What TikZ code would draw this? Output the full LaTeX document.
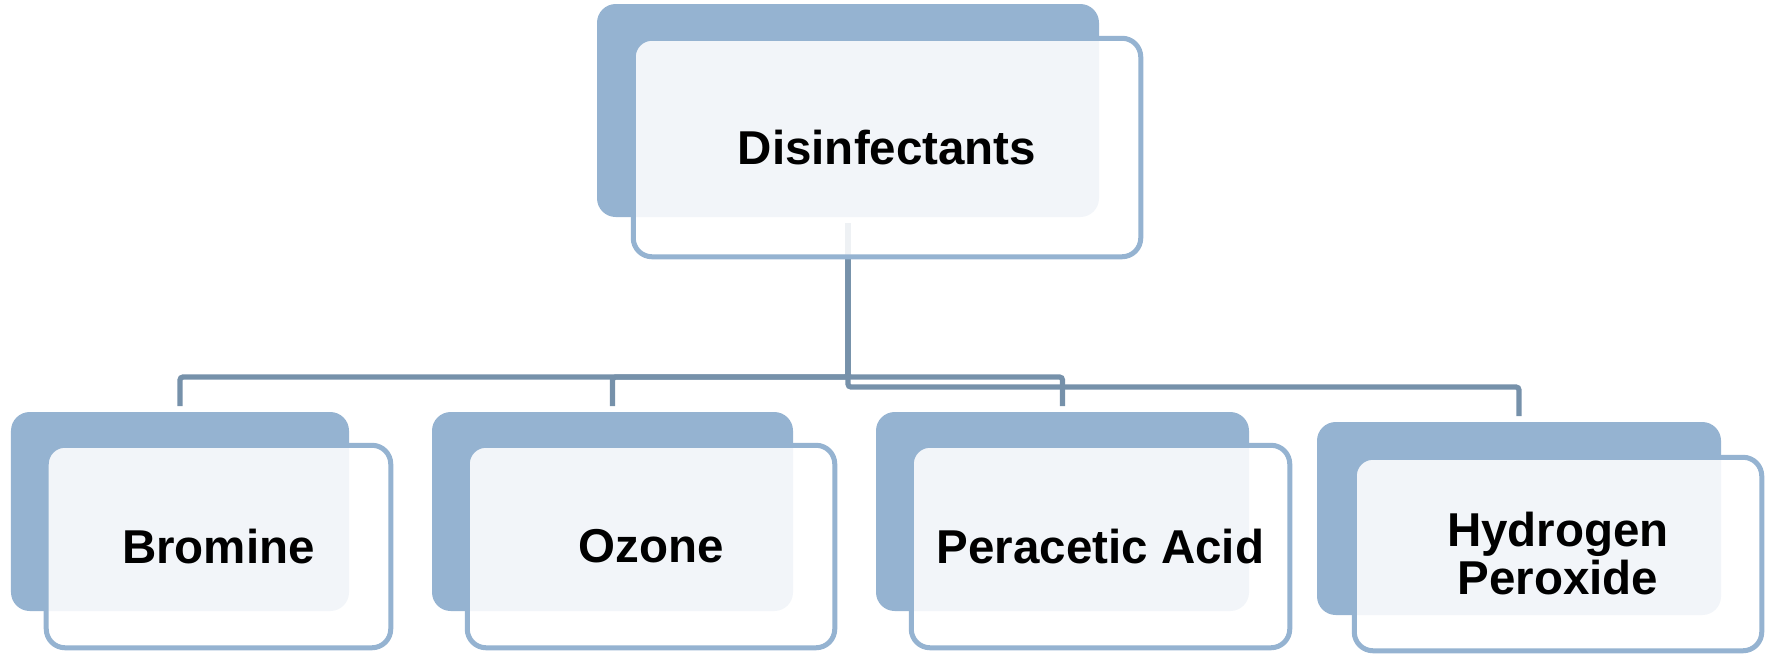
\documentclass[tikz,border=0pt]{standalone}
\usepackage{fontspec}
\setmainfont{Liberation Sans}
\usetikzlibrary{calc,backgrounds}
\definecolor{backblue}{RGB}{149,179,209}
\definecolor{connblue}{RGB}{118,145,170}
\tikzset{
  backbox/.style={fill=backblue, draw=none, rounded corners=7.5pt, inner sep=0pt, outer sep=0pt},
  frontbox/.style={fill=white, fill opacity=0.88, text opacity=1, draw=backblue, line width=2pt,
    rounded corners=7.5pt, inner sep=0pt, outer sep=0pt, align=center, text=black,
    font=\bfseries\fontsize{19}{19.2}\selectfont},
  conn/.style={draw=connblue, line width=2.1pt, rounded corners=1.2pt},
}
\begin{document}
\begin{tikzpicture}[x=0.4pt,y=-0.4pt]
\useasboundingbox (0,0) rectangle (1771,656);
% back boxes
\node[backbox, minimum width=200.8pt, minimum height=85.2pt] (rb) at (848,110.5) {};
\node[backbox, minimum width=135.2pt, minimum height=79.6pt] (b1b) at (180,511.5) {};
\node[backbox, minimum width=144.4pt, minimum height=79.6pt] (b2b) at (612.5,511.5) {};
\node[backbox, minimum width=149.2pt, minimum height=79.6pt] (b3b) at (1062.5,511.5) {};
\node[backbox, minimum width=161.6pt, minimum height=77.2pt] (b4b) at (1519,518.5) {};
% front boxes
\node[frontbox, minimum width=203pt, minimum height=87.4pt] (r) at (887,147.5) {Disinfectants};
\node[frontbox, minimum width=137.8pt, minimum height=81pt] (b1) at (218.5,546.5) {Bromine};
\node[frontbox, minimum width=147pt, minimum height=81pt] (b2) at (651,546.5) {Ozone};
\node[frontbox, minimum width=151.4pt, minimum height=81pt] (b3) at (1100.5,546.5) {Peracetic Acid};
\node[frontbox, minimum width=163pt, minimum height=77.4pt] (b4) at (1558,554) {Hydrogen\\Peroxide};
% connectors
\begin{scope}[on background layer]
\foreach \c in {b1b,b2b,b3b,b4b}{
  \draw[conn] ($(rb.south)+(0,6)$) |- ($(\c.north)+(0,-35)$) -- ($(\c.north)+(0,-6)$);
}
\end{scope}
\end{tikzpicture}
\end{document}
